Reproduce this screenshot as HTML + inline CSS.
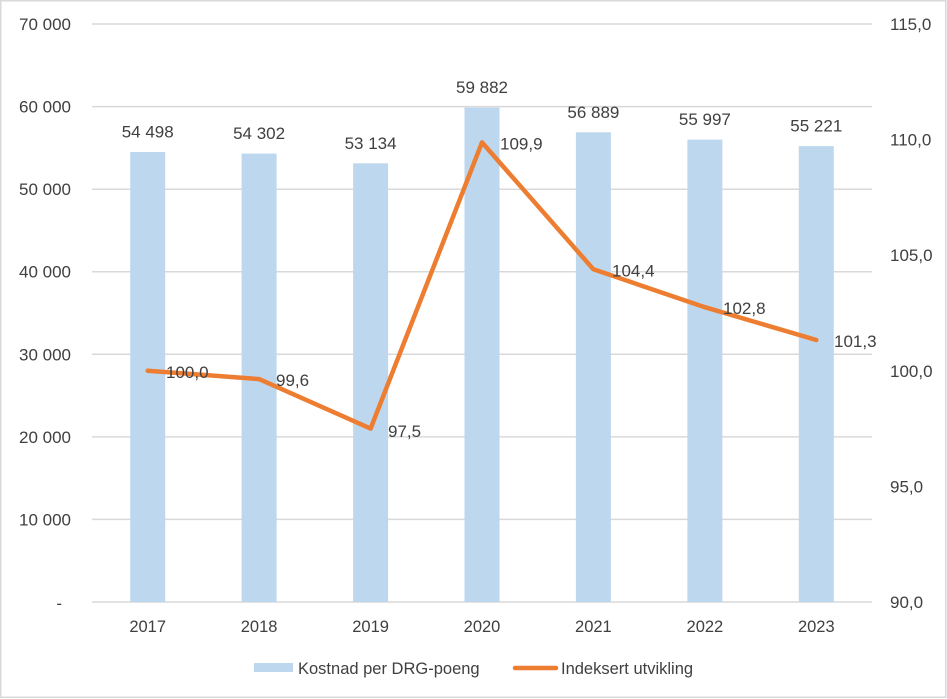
<!DOCTYPE html>
<html>
<head>
<meta charset="utf-8">
<style>
html,body{margin:0;padding:0;background:#fff;}
svg{display:block;}
text{font-family:"Liberation Sans",Arial,sans-serif;fill:#404040;}
.n{font-size:17px;}
.y{font-size:16.5px;}
.lg{font-size:16.5px;}
</style>
</head>
<body>
<svg width="947" height="699" viewBox="0 0 947 699" xmlns="http://www.w3.org/2000/svg">
<rect x="0" y="0" width="947" height="699" fill="#fff"/>
<rect x="0.75" y="0.75" width="945" height="696.5" fill="none" stroke="#d9d9d9" stroke-width="1.5"/>

<!-- gridlines -->
<g stroke="#d9d9d9" stroke-width="1.5">
<line x1="92" x2="872" y1="24" y2="24"/>
<line x1="92" x2="872" y1="106.6" y2="106.6"/>
<line x1="92" x2="872" y1="189.2" y2="189.2"/>
<line x1="92" x2="872" y1="271.7" y2="271.7"/>
<line x1="92" x2="872" y1="354.3" y2="354.3"/>
<line x1="92" x2="872" y1="436.9" y2="436.9"/>
<line x1="92" x2="872" y1="519.4" y2="519.4"/>
<line x1="92" x2="872" y1="602" y2="602"/>
</g>

<!-- bars -->
<g fill="#BDD7EE">
<rect x="130.2" y="152.0" width="35" height="450.0"/>
<rect x="241.6" y="153.6" width="35" height="448.4"/>
<rect x="353.1" y="163.3" width="35" height="438.7"/>
<rect x="464.5" y="107.6" width="35" height="494.4"/>
<rect x="575.9" y="132.3" width="35" height="469.7"/>
<rect x="687.4" y="139.6" width="35" height="462.4"/>
<rect x="798.8" y="146.1" width="35" height="455.9"/>
</g>

<!-- bar labels -->
<g class="n" text-anchor="middle">
<text x="147.7" y="137.5">54 498</text>
<text x="259.1" y="139.1">54 302</text>
<text x="370.6" y="148.8">53 134</text>
<text x="482" y="93.1">59 882</text>
<text x="593.4" y="117.8">56 889</text>
<text x="704.9" y="125.1">55 997</text>
<text x="816.3" y="131.6">55 221</text>
</g>

<!-- line -->
<polyline fill="none" stroke="#ED7D31" stroke-width="4.5" stroke-linejoin="round" stroke-linecap="round"
 points="147.7,370.8 259.1,379.1 370.6,428.6 482,142.4 593.4,269.3 704.9,307.2 816.3,340.0"/>

<!-- line labels -->
<g class="n">
<text x="166" y="378">100,0</text>
<text x="276" y="386">99,6</text>
<text x="388" y="437">97,5</text>
<text x="500" y="149.5">109,9</text>
<text x="612" y="276.5">104,4</text>
<text x="723" y="314">102,8</text>
<text x="834" y="347">101,3</text>
</g>

<!-- left axis -->
<g class="n" text-anchor="end">
<text x="71" y="30">70 000</text>
<text x="71" y="112.6">60 000</text>
<text x="71" y="195.2">50 000</text>
<text x="71" y="277.7">40 000</text>
<text x="71" y="360.3">30 000</text>
<text x="71" y="442.9">20 000</text>
<text x="71" y="525.4">10 000</text>
<text x="62" y="609">-</text>
</g>

<!-- right axis -->
<g class="n">
<text x="890" y="30">115,0</text>
<text x="890" y="145.6">110,0</text>
<text x="890" y="261.2">105,0</text>
<text x="890" y="376.8">100,0</text>
<text x="890" y="492.4">95,0</text>
<text x="890" y="608">90,0</text>
</g>

<!-- x axis -->
<g class="y" text-anchor="middle">
<text x="147.7" y="632">2017</text>
<text x="259.1" y="632">2018</text>
<text x="370.6" y="632">2019</text>
<text x="482" y="632">2020</text>
<text x="593.4" y="632">2021</text>
<text x="704.9" y="632">2022</text>
<text x="816.3" y="632">2023</text>
</g>

<!-- legend -->
<rect x="254" y="663" width="39" height="9" fill="#BDD7EE"/>
<text class="lg" x="298" y="674">Kostnad per DRG-poeng</text>
<line x1="515" y1="668" x2="556" y2="668" stroke="#ED7D31" stroke-width="4.5" stroke-linecap="round"/>
<text class="lg" x="561" y="674">Indeksert utvikling</text>
</svg>
</body>
</html>
